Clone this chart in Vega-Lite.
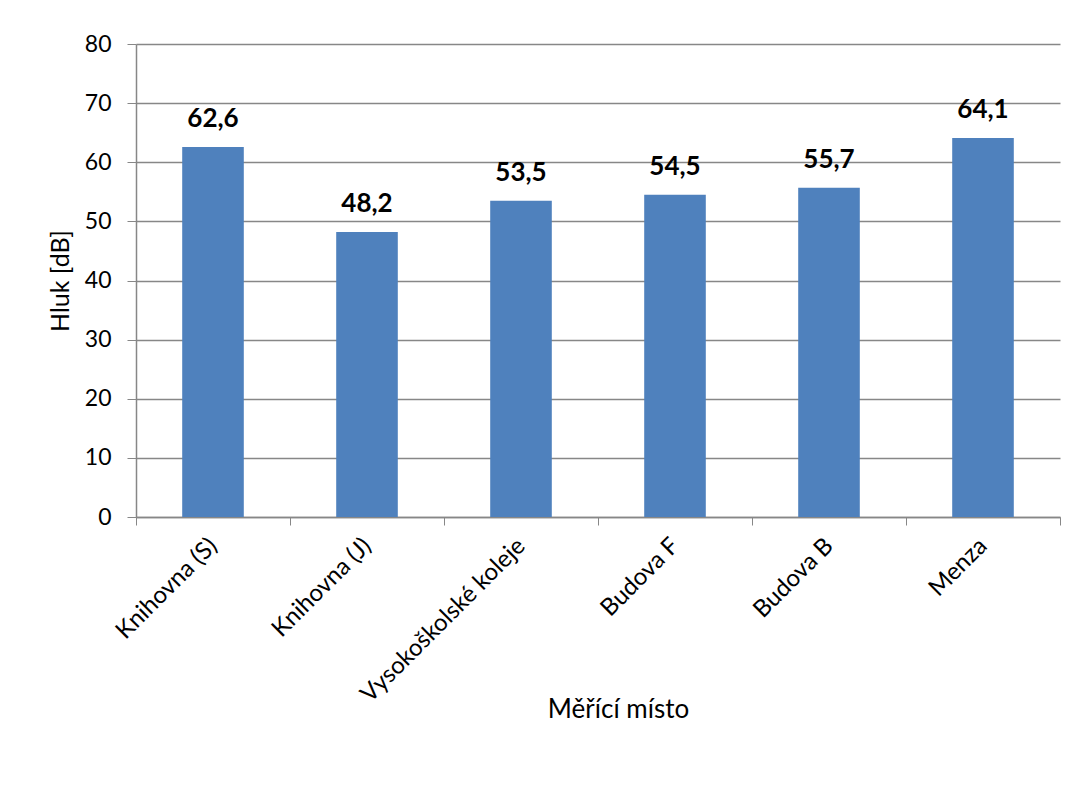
{
  "$schema": "https://vega.github.io/schema/vega-lite/v6.json",
  "autosize": {"type": "none"},
  "padding": {"left": 136, "top": 44, "right": 15, "bottom": 271},
  "width": 924,
  "height": 473,
  "background": "white",
  "config": {
    "locale": {"number": {"decimal": ",", "thousands": " ", "grouping": [3], "currency": ["", " Kč"]}},
    "font": "Lato",
    "view": {"stroke": null},
    "axis": {
      "domainColor": "#878787",
      "tickColor": "#878787",
      "gridColor": "#878787",
      "labelColor": "#000000",
      "titleColor": "#000000",
      "labelFont": "Lato",
      "titleFont": "Lato",
      "titleFontWeight": "normal",
      "labelLimit": 0
    }
  },
  "data": {
    "values": [
      {"misto": "Knihovna (S)", "hluk": 62.6},
      {"misto": "Knihovna (J)", "hluk": 48.2},
      {"misto": "Vysokoškolské koleje", "hluk": 53.5},
      {"misto": "Budova F", "hluk": 54.5},
      {"misto": "Budova B", "hluk": 55.7},
      {"misto": "Menza", "hluk": 64.1}
    ]
  },
  "encoding": {
    "x": {
      "field": "misto",
      "type": "nominal",
      "sort": null,
      "scale": {"paddingInner": 0, "paddingOuter": 0},
      "axis": {
        "title": "Měřící místo",
        "titleFontSize": 26,
        "titleX": 482,
        "titleY": 192,
        "titleBaseline": "middle",
        "titleAlign": "center",
        "labelAngle": -45,
        "labelAlign": "right",
        "labelBaseline": "middle",
        "labelFontSize": 24,
        "labelPadding": 17,
        "labelLimit": 0,
        "tickBand": "extent",
        "tickSize": 8,
        "domainWidth": 1.5,
        "grid": false
      }
    },
    "y": {
      "field": "hluk",
      "type": "quantitative",
      "scale": {"domain": [0, 80], "nice": false},
      "axis": {
        "title": "Hluk [dB]",
        "titleFontSize": 25,
        "titleAngle": -90,
        "titleX": -76,
        "titleY": 236.5,
        "titleAlign": "center",
        "titleBaseline": "middle",
        "values": [0, 10, 20, 30, 40, 50, 60, 70, 80],
        "labelFontSize": 23,
        "labelPadding": 16,
        "tickSize": 9,
        "domainWidth": 1.5,
        "grid": true,
        "gridWidth": 1.5
      }
    }
  },
  "layer": [
    {
      "mark": {"type": "bar", "color": "#4F81BD", "width": {"band": 0.4}}
    },
    {
      "mark": {"type": "text", "fontSize": 26, "fontWeight": "bold", "baseline": "alphabetic", "dy": -20, "color": "#000000"},
      "encoding": {
        "text": {"field": "hluk", "type": "quantitative", "format": ".1f"}
      }
    }
  ]
}
